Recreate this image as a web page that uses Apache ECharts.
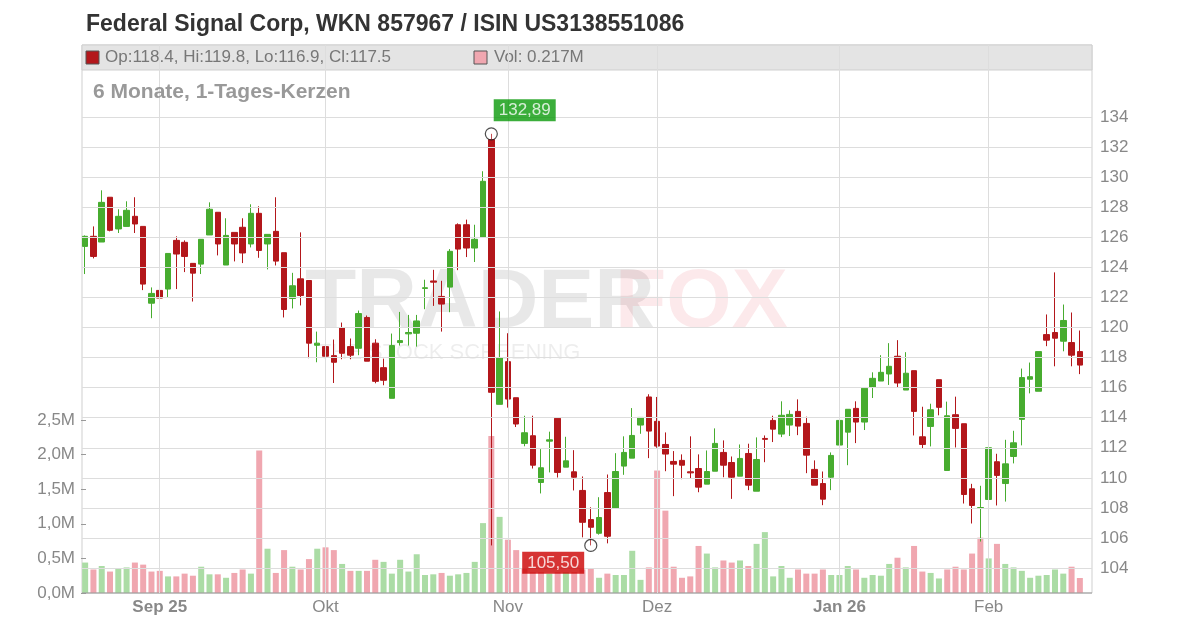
<!DOCTYPE html>
<html><head><meta charset="utf-8">
<script src="https://cdn.jsdelivr.net/npm/echarts@6/dist/echarts.min.js"></script>
<style>html,body{margin:0;padding:0;background:#fff}#c{width:1200px;height:628px}</style>
</head><body><div id="c"></div>
<script>
// Candles: [open, close, low, high]
const opens = [125.4,126.07,125.69,128.67,126.56,126.73,127.4,126.73,121.62,122.47,122.56,125.8,125.67,124.27,124.22,126.16,127.67,124.16,126.33,126.67,
125.56,127.6,125.56,126.4,124.98,121.93,123.24,123.13,118.82,118.73,118.13,120.0,118.73,118.62,120.67,118.96,117.33,115.29,119.0,119.58,
119.62,122.6,123.1,122.07,122.69,126.84,126.84,125.29,126.0,132.51,114.89,117.73,115.33,112.29,112.8,109.69,112.44,113.96,110.71,110.4,
109.16,107.22,106.31,109.02,107.98,110.78,111.31,113.51,115.38,113.76,112.22,111.09,111.16,110.4,110.62,109.58,110.44,111.69,111.02,110.11,
111.62,109.11,112.62,113.82,112.91,113.51,114.42,113.62,110.56,109.62,110.04,112.18,113.04,114.62,113.71,116.02,116.44,116.91,118.09,115.84,
117.13,112.73,113.42,116.53,110.49,114.2,113.6,109.27,107.96,108.56,111.07,109.62,111.42,113.89,116.56,115.76,119.53,119.67,119.09,119.0,118.4];
const closes = [126.07,124.73,128.33,126.47,127.4,127.8,126.89,122.89,122.27,121.96,124.93,124.89,124.73,123.62,125.87,127.87,125.56,126.13,125.56,124.96,
127.6,125.13,126.2,124.42,121.2,122.78,122.13,118.96,118.96,118.09,117.69,118.29,118.16,120.93,117.76,116.42,116.49,118.8,119.13,119.67,
120.44,122.65,123.02,121.56,125.07,125.22,125.29,125.87,129.73,115.69,118.0,115.24,113.58,113.0,110.84,110.67,112.53,110.36,111.13,110.04,
107.04,106.71,107.36,106.11,110.42,111.69,112.82,114.02,113.11,112.11,111.58,110.91,110.84,110.33,109.38,110.42,112.29,110.84,110.04,111.29,
109.51,111.22,112.56,113.24,114.16,114.22,113.44,111.51,109.51,108.58,111.49,113.82,114.56,113.71,115.96,116.62,117.02,117.42,116.31,116.96,
114.42,112.22,114.53,114.69,114.13,113.29,108.89,108.16,108.02,112.0,110.16,110.93,112.33,116.67,116.73,118.4,119.16,119.29,120.47,118.16,117.5];
const lows = [123.56,124.6,125.69,126.4,126.29,126.73,126.29,122.49,120.62,121.2,122.02,122.56,123.69,121.73,123.56,126.16,124.8,124.16,124.4,124.29,
125.33,124.64,123.87,124.13,120.67,121.27,121.47,117.96,117.69,115.91,116.31,117.89,117.89,118.16,117.76,116.29,116.16,115.29,118.8,118.8,
118.73,121.22,121.44,119.73,121.02,123.82,124.69,124.36,126.0,105.5,114.89,114.67,113.38,112.1,110.62,108.96,110.36,110.02,110.71,109.16,
106.04,105.5,106.22,105.64,107.98,110.2,111.31,112.93,111.31,112.0,110.44,108.78,109.91,109.98,109.04,109.58,110.44,110.04,108.6,110.11,
109.18,109.11,111.04,112.38,112.71,112.78,112.84,110.31,109.51,108.18,109.18,111.11,110.84,112.31,113.18,115.31,116.44,116.18,115.98,115.84,
112.82,111.96,112.09,114.16,110.49,112.02,108.29,106.96,105.76,107.82,108.16,108.42,110.96,112.16,115.62,115.76,118.76,117.42,118.42,117.42,116.9];
const highs = [126.13,126.73,129.13,128.67,127.87,128.4,128.67,126.73,122.67,123.4,124.93,126.07,125.8,124.27,125.87,128.33,127.67,127.27,126.33,127.27,
128.2,128.07,126.2,128.67,124.98,123.64,126.33,123.13,119.73,119.09,119.2,120.33,119.27,121.13,120.8,119.22,117.93,119.6,121.04,120.84,
120.84,123.18,123.84,123.11,125.22,126.93,127.18,126.84,130.4,132.89,121.07,119.62,115.33,114.13,114.13,111.91,113.07,113.96,112.73,111.84,
110.09,108.04,108.71,110.22,111.64,112.76,114.64,114.02,115.56,115.38,113.02,111.78,111.56,112.76,111.56,111.82,113.29,112.49,111.42,112.22,
112.27,112.69,112.82,114.13,115.09,114.49,115.22,114.07,111.16,110.42,111.69,115.16,114.56,115.09,115.96,117.02,118.16,118.96,119.16,118.36,
117.13,114.73,114.93,116.53,115.07,115.4,113.6,109.6,109.47,112.0,111.6,112.53,113.13,117.27,117.67,118.4,120.87,123.67,121.53,121.0,119.8];
const volumesM = [0.44,0.34,0.39,0.31,0.36,0.37,0.44,0.41,0.31,0.32,0.24,0.24,0.28,0.25,0.38,0.27,0.27,0.22,0.29,0.34,
0.28,2.06,0.64,0.29,0.62,0.38,0.34,0.49,0.64,0.66,0.62,0.42,0.32,0.32,0.32,0.48,0.45,0.28,0.48,0.31,
0.56,0.26,0.27,0.29,0.25,0.27,0.29,0.45,1.01,2.27,1.10,0.77,0.62,0.35,0.30,0.30,0.28,0.30,0.30,0.30,
0.34,0.35,0.22,0.28,0.26,0.26,0.61,0.19,0.37,1.77,1.19,0.38,0.22,0.24,0.68,0.57,0.37,0.47,0.44,0.47,
0.39,0.71,0.88,0.24,0.39,0.22,0.34,0.28,0.28,0.34,0.26,0.26,0.39,0.34,0.22,0.26,0.25,0.42,0.51,0.37,
0.68,0.31,0.29,0.21,0.34,0.38,0.34,0.57,0.80,0.50,0.71,0.42,0.37,0.32,0.22,0.25,0.26,0.34,0.28,0.38,0.217];
const tickIdx = [9,29,51,69,91,109];
const tickLabels = ['Sep 25','Okt','Nov','Dez','Jan 26','Feb'];
const boldTicks = ['Sep 25','Jan 26'];
const priceTicks = [104,106,108,110,112,114,116,118,120,122,124,126,128,130,132,134];
const volTicks = [0,500000,1000000,1500000,2000000,2500000];
const hiIdx = 49, hiVal = 132.89, loIdx = 61, loVal = 105.50;

const RED='#b3171b', GREEN='#47ac2f', PINK='#f0a7b0', LGREEN='#abdca5';
const cats = opens.map((_,i)=>String(i));
const candle = opens.map((o,i)=>[o,closes[i],lows[i],highs[i]]);
const vol = volumesM.map((v,i)=>{
  const up = i===0 ? closes[0]>=opens[0] : closes[i]>=closes[i-1];
  return {value:v*1e6,itemStyle:{color: up?LGREEN:PINK}};
});
const chart = echarts.init(document.getElementById('c'),null,{renderer:'canvas'});
const labelMap = {}; tickIdx.forEach((t,k)=>labelMap[t]=tickLabels[k]);
chart.setOption({
  animation:false,
  textStyle:{fontFamily:'Liberation Sans, Arial, sans-serif'},
  title:[{text:'Federal Signal Corp, WKN 857967 / ISIN US3138551086',left:81,top:8,
    textStyle:{fontSize:23,fontWeight:'bold',color:'#333'}},
    {text:'6 Monate, 1-Tages-Kerzen',left:88,top:77,textStyle:{fontSize:21,fontWeight:'bold',color:'#999'}}],
  graphic:[
    {type:'rect',shape:{x:82,y:45,width:1010,height:548},style:{fill:'none',stroke:'#cfcfcf',lineWidth:1},z:0},
    {type:'rect',shape:{x:82,y:45,width:1010,height:25},style:{fill:'#e4e4e4',stroke:'#cfcfcf'},z:1},
    {type:'rect',shape:{x:86,y:51,width:13,height:13},style:{fill:RED,stroke:'#555'},z:2},
    {type:'text',x:105,y:49,style:{text:'Op:118.4, Hi:119.8, Lo:116.9, Cl:117.5',fontSize:17,fill:'#777',fontFamily:'Liberation Sans, Arial'},z:2},
    {type:'rect',shape:{x:474,y:51,width:13,height:13},style:{fill:PINK,stroke:'#555'},z:2},
    {type:'text',x:494,y:49,style:{text:'Vol: 0.217M',fontSize:17,fill:'#777',fontFamily:'Liberation Sans, Arial'},z:2},
    {type:'line',shape:{x1:82,y1:593,x2:1092,y2:593},style:{stroke:'#999',lineWidth:1},z:2},
    {type:'text',x:305,y:262,style:{text:'TRADER',fontSize:84,fontWeight:'bold',fill:'rgba(0,0,0,0.09)',fontFamily:'Liberation Sans, Arial'},z:0},
    {type:'text',x:615,y:262,style:{text:'FOX',fontSize:84,fontWeight:'bold',fill:'rgba(230,40,60,0.10)',fontFamily:'Liberation Sans, Arial'},z:0},
    {type:'text',x:318,y:342,style:{text:'THE STOCK SCREENING',fontSize:22,letterSpacing:6,fill:'rgba(0,0,0,0.07)',fontFamily:'Liberation Sans, Arial'},z:0}
  ],
  grid:{left:81,right:116,top:45,bottom:35},
  xAxis:{type:'category',data:cats,boundaryGap:true,
    axisLine:{show:false},axisTick:{show:false},
    axisLabel:{interval:(i)=>labelMap[i]!==undefined,formatter:(v)=>{const l=labelMap[+v];return boldTicks.includes(l)?'{b|'+l+'}':l;},
      color:'#888',fontSize:17,margin:6,rich:{b:{fontWeight:'bold',color:'#888',fontSize:17}}},
    splitLine:{show:false}},
  yAxis:[
    {type:'value',position:'right',min:102.336,max:138.8,splitLine:{show:false},
      axisLine:{show:false},axisTick:{show:false},
      axisLabel:{customValues:priceTicks,color:'#888',fontSize:17,margin:16}},
    {type:'value',position:'left',min:0,max:7.92e6,splitLine:{show:false},
      axisLine:{show:false},
      axisTick:{show:true,inside:true,customValues:volTicks,length:5,lineStyle:{color:'#999'}},
      axisLabel:{customValues:volTicks,color:'#888',fontSize:17,margin:6,
        formatter:(v)=>(v/1e6).toFixed(1).replace('.',',')+'M'}}
  ],
  series:[
    {type:'bar',yAxisIndex:1,data:vol,barWidth:6,z:1,silent:true,
      markLine:{silent:true,symbol:'none',label:{show:false},lineStyle:{color:'#ddd',type:'solid',width:1},
        data:tickIdx.map(t=>({xAxis:String(t)}))}},
    {type:'candlestick',yAxisIndex:0,data:candle,barWidth:6,z:3,
      itemStyle:{color:GREEN,color0:RED,borderColor:GREEN,borderColor0:RED,borderWidth:1},
      markLine:{silent:true,symbol:'none',label:{show:false},lineStyle:{color:'#ddd',type:'solid',width:1},
        data:priceTicks.map(p=>[{yAxis:p,x:82},{yAxis:p,x:1092}])}},
    {type:'scatter',yAxisIndex:0,z:10,symbol:'circle',symbolSize:12,silent:true,
      itemStyle:{color:'rgba(255,255,255,0.3)',borderColor:'#222',borderWidth:1.2},
      data:[
        {value:[hiIdx,hiVal],label:{show:true,position:[9,-28],formatter:'132,89',color:'#fff',fontSize:17,backgroundColor:'#0a9a0a',padding:[3,5,2,5]}},
        {value:[loIdx,loVal],label:{show:true,position:[-62,13],formatter:'105,50',color:'#fff',fontSize:17,backgroundColor:'#cc0000',padding:[3,5,2,5]}}
      ]}
  ]
});
</script></body></html>
